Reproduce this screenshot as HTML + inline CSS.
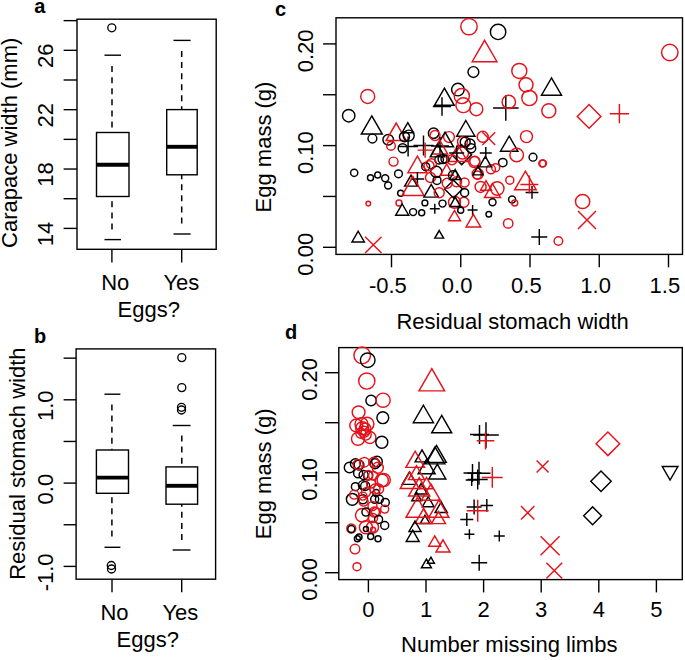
<!DOCTYPE html>
<html><head><meta charset="utf-8"><style>
html,body{margin:0;padding:0;background:#fff;}
svg{display:block;}
text{font-family:"Liberation Sans",sans-serif;fill:#000;}
</style></head><body>
<svg width="685" height="660" viewBox="0 0 685 660">
<rect width="685" height="660" fill="#fff"/>
<rect x="77.00" y="19.20" width="139.20" height="230.10" fill="none" stroke="#000" stroke-width="1.4"/>
<line x1="63.60" y1="228.40" x2="77.00" y2="228.40" stroke="#000" stroke-width="1.4" />
<line x1="63.60" y1="198.72" x2="77.00" y2="198.72" stroke="#000" stroke-width="1.4" />
<line x1="63.60" y1="169.04" x2="77.00" y2="169.04" stroke="#000" stroke-width="1.4" />
<line x1="63.60" y1="139.36" x2="77.00" y2="139.36" stroke="#000" stroke-width="1.4" />
<line x1="63.60" y1="109.68" x2="77.00" y2="109.68" stroke="#000" stroke-width="1.4" />
<line x1="63.60" y1="80.00" x2="77.00" y2="80.00" stroke="#000" stroke-width="1.4" />
<line x1="63.60" y1="50.32" x2="77.00" y2="50.32" stroke="#000" stroke-width="1.4" />
<line x1="63.60" y1="20.64" x2="77.00" y2="20.64" stroke="#000" stroke-width="1.4" />
<text x="0" y="0" font-size="22" text-anchor="middle" transform="translate(52.60,233.90) rotate(-90) scale(1.0,1)">14</text>
<text x="0" y="0" font-size="22" text-anchor="middle" transform="translate(52.60,174.54) rotate(-90) scale(1.0,1)">18</text>
<text x="0" y="0" font-size="22" text-anchor="middle" transform="translate(52.60,115.18) rotate(-90) scale(1.0,1)">22</text>
<text x="0" y="0" font-size="22" text-anchor="middle" transform="translate(52.60,55.82) rotate(-90) scale(1.0,1)">26</text>
<line x1="111.90" y1="249.30" x2="111.90" y2="262.40" stroke="#000" stroke-width="1.4" />
<line x1="181.70" y1="249.30" x2="181.70" y2="262.40" stroke="#000" stroke-width="1.4" />
<text x="0" y="0" font-size="22" text-anchor="middle" transform="translate(115.20,290.30) scale(1.0,1)">No</text>
<text x="0" y="0" font-size="22" text-anchor="middle" transform="translate(181.40,290.30) scale(1.0,1)">Yes</text>
<text x="0" y="0" font-size="22" text-anchor="middle" transform="translate(148.80,317.30) scale(1.0,1)">Eggs?</text>
<text x="0" y="0" font-size="22" text-anchor="middle" transform="translate(16.60,142.80) rotate(-90) scale(1.0,1)">Carapace width (mm)</text>
<text x="0" y="0" font-size="20" text-anchor="middle" font-weight="bold" transform="translate(39.90,12.80) scale(1.0,1)">a</text>
<rect x="96.50" y="132.50" width="32.50" height="64.00" fill="none" stroke="#000" stroke-width="1.4"/>
<line x1="96.50" y1="164.80" x2="129.00" y2="164.80" stroke="#000" stroke-width="3.9" />
<line x1="104.50" y1="55.20" x2="121.00" y2="55.20" stroke="#000" stroke-width="1.4" />
<line x1="104.50" y1="239.60" x2="121.00" y2="239.60" stroke="#000" stroke-width="1.4" />
<line x1="112.00" y1="66.10" x2="112.00" y2="132.50" stroke="#000" stroke-width="1.5" stroke-dasharray="6 5.07"/>
<line x1="112.00" y1="196.50" x2="112.00" y2="229.50" stroke="#000" stroke-width="1.5" stroke-dasharray="6 5.07" transform="rotate(180 112.00 213.00)"/>
<circle cx="111.8" cy="27.8" r="4.0" fill="none" stroke="#000" stroke-width="1.35"/>
<rect x="166.70" y="109.60" width="30.50" height="65.20" fill="none" stroke="#000" stroke-width="1.4"/>
<line x1="166.70" y1="146.80" x2="197.20" y2="146.80" stroke="#000" stroke-width="3.9" />
<line x1="173.50" y1="40.40" x2="190.60" y2="40.40" stroke="#000" stroke-width="1.4" />
<line x1="173.50" y1="234.00" x2="190.60" y2="234.00" stroke="#000" stroke-width="1.4" />
<line x1="181.70" y1="51.00" x2="181.70" y2="109.60" stroke="#000" stroke-width="1.5" stroke-dasharray="6 5.07"/>
<line x1="181.70" y1="174.80" x2="181.70" y2="223.50" stroke="#000" stroke-width="1.5" stroke-dasharray="6 5.07" transform="rotate(180 181.70 199.15)"/>
<rect x="76.10" y="348.90" width="139.50" height="230.30" fill="none" stroke="#000" stroke-width="1.4"/>
<line x1="63.60" y1="566.40" x2="76.10" y2="566.40" stroke="#000" stroke-width="1.4" />
<line x1="63.60" y1="524.75" x2="76.10" y2="524.75" stroke="#000" stroke-width="1.4" />
<line x1="63.60" y1="483.10" x2="76.10" y2="483.10" stroke="#000" stroke-width="1.4" />
<line x1="63.60" y1="441.45" x2="76.10" y2="441.45" stroke="#000" stroke-width="1.4" />
<line x1="63.60" y1="399.80" x2="76.10" y2="399.80" stroke="#000" stroke-width="1.4" />
<line x1="63.60" y1="358.15" x2="76.10" y2="358.15" stroke="#000" stroke-width="1.4" />
<text x="0" y="0" font-size="22" text-anchor="middle" transform="translate(52.60,572.40) rotate(-90) scale(1.0,1)">-1.0</text>
<text x="0" y="0" font-size="22" text-anchor="middle" transform="translate(52.60,489.10) rotate(-90) scale(1.0,1)">0.0</text>
<text x="0" y="0" font-size="22" text-anchor="middle" transform="translate(52.60,405.80) rotate(-90) scale(1.0,1)">1.0</text>
<line x1="112.00" y1="579.20" x2="112.00" y2="592.20" stroke="#000" stroke-width="1.4" />
<line x1="181.70" y1="579.20" x2="181.70" y2="592.20" stroke="#000" stroke-width="1.4" />
<text x="0" y="0" font-size="22" text-anchor="middle" transform="translate(114.50,619.50) scale(1.0,1)">No</text>
<text x="0" y="0" font-size="22" text-anchor="middle" transform="translate(180.40,619.50) scale(1.0,1)">Yes</text>
<text x="0" y="0" font-size="22" text-anchor="middle" transform="translate(147.80,646.50) scale(1.0,1)">Eggs?</text>
<text x="0" y="0" font-size="22" text-anchor="middle" transform="translate(25.30,463.60) rotate(-90) scale(1.0,1)">Residual stomach width</text>
<text x="0" y="0" font-size="20" text-anchor="middle" font-weight="bold" transform="translate(40.00,342.60) scale(1.0,1)">b</text>
<rect x="96.40" y="450.00" width="32.10" height="43.30" fill="none" stroke="#000" stroke-width="1.4"/>
<line x1="96.40" y1="477.60" x2="128.50" y2="477.60" stroke="#000" stroke-width="3.9" />
<line x1="104.50" y1="394.20" x2="120.40" y2="394.20" stroke="#000" stroke-width="1.4" />
<line x1="104.50" y1="547.30" x2="120.40" y2="547.30" stroke="#000" stroke-width="1.4" />
<line x1="111.90" y1="404.50" x2="111.90" y2="450.00" stroke="#000" stroke-width="1.5" stroke-dasharray="6 5.07"/>
<line x1="111.90" y1="493.30" x2="111.90" y2="536.50" stroke="#000" stroke-width="1.5" stroke-dasharray="6 5.07" transform="rotate(180 111.90 514.90)"/>
<circle cx="111.3" cy="565.5" r="4.0" fill="none" stroke="#000" stroke-width="1.35"/>
<circle cx="111.5" cy="569.0" r="4.0" fill="none" stroke="#000" stroke-width="1.35"/>
<rect x="166.00" y="466.90" width="31.60" height="37.30" fill="none" stroke="#000" stroke-width="1.4"/>
<line x1="166.00" y1="485.80" x2="197.60" y2="485.80" stroke="#000" stroke-width="3.9" />
<line x1="172.70" y1="425.50" x2="190.50" y2="425.50" stroke="#000" stroke-width="1.4" />
<line x1="172.70" y1="550.00" x2="190.50" y2="550.00" stroke="#000" stroke-width="1.4" />
<line x1="181.80" y1="435.50" x2="181.80" y2="466.90" stroke="#000" stroke-width="1.5" stroke-dasharray="6 5.07"/>
<line x1="181.80" y1="504.20" x2="181.80" y2="540.00" stroke="#000" stroke-width="1.5" stroke-dasharray="6 5.07" transform="rotate(180 181.80 522.10)"/>
<circle cx="181.8" cy="357.6" r="4.0" fill="none" stroke="#000" stroke-width="1.35"/>
<circle cx="181.8" cy="387.6" r="4.0" fill="none" stroke="#000" stroke-width="1.35"/>
<circle cx="181.5" cy="407.3" r="4.0" fill="none" stroke="#000" stroke-width="1.35"/>
<circle cx="181.5" cy="410.0" r="4.0" fill="none" stroke="#000" stroke-width="1.35"/>
<rect x="336.00" y="17.80" width="346.50" height="236.60" fill="none" stroke="#000" stroke-width="1.4"/>
<line x1="323.00" y1="247.30" x2="336.00" y2="247.30" stroke="#000" stroke-width="1.4" />
<line x1="323.00" y1="196.45" x2="336.00" y2="196.45" stroke="#000" stroke-width="1.4" />
<line x1="323.00" y1="145.60" x2="336.00" y2="145.60" stroke="#000" stroke-width="1.4" />
<line x1="323.00" y1="94.75" x2="336.00" y2="94.75" stroke="#000" stroke-width="1.4" />
<line x1="323.00" y1="43.90" x2="336.00" y2="43.90" stroke="#000" stroke-width="1.4" />
<text x="0" y="0" font-size="22" text-anchor="middle" transform="translate(313.20,254.30) rotate(-90) scale(1.0,1)">0.00</text>
<text x="0" y="0" font-size="22" text-anchor="middle" transform="translate(313.20,152.60) rotate(-90) scale(1.0,1)">0.10</text>
<text x="0" y="0" font-size="22" text-anchor="middle" transform="translate(313.20,50.90) rotate(-90) scale(1.0,1)">0.20</text>
<line x1="391.50" y1="254.40" x2="391.50" y2="267.30" stroke="#000" stroke-width="1.4" />
<text x="0" y="0" font-size="22" text-anchor="middle" transform="translate(387.90,293.30) scale(1.0,1)">-0.5</text>
<line x1="460.75" y1="254.40" x2="460.75" y2="267.30" stroke="#000" stroke-width="1.4" />
<text x="0" y="0" font-size="22" text-anchor="middle" transform="translate(457.15,293.30) scale(1.0,1)">0.0</text>
<line x1="530.00" y1="254.40" x2="530.00" y2="267.30" stroke="#000" stroke-width="1.4" />
<text x="0" y="0" font-size="22" text-anchor="middle" transform="translate(526.40,293.30) scale(1.0,1)">0.5</text>
<line x1="599.25" y1="254.40" x2="599.25" y2="267.30" stroke="#000" stroke-width="1.4" />
<text x="0" y="0" font-size="22" text-anchor="middle" transform="translate(595.65,293.30) scale(1.0,1)">1.0</text>
<line x1="668.50" y1="254.40" x2="668.50" y2="267.30" stroke="#000" stroke-width="1.4" />
<text x="0" y="0" font-size="22" text-anchor="middle" transform="translate(664.90,293.30) scale(1.0,1)">1.5</text>
<text x="0" y="0" font-size="22" text-anchor="middle" transform="translate(512.60,328.60) scale(1.0,1)">Residual stomach width</text>
<text x="0" y="0" font-size="22" text-anchor="middle" transform="translate(271.40,147.00) rotate(-90) scale(1.0,1)">Egg mass (g)</text>
<text x="0" y="0" font-size="20" text-anchor="middle" font-weight="bold" transform="translate(280.60,15.70) scale(1.0,1)">c</text>
<rect x="338.80" y="347.60" width="343.50" height="232.00" fill="none" stroke="#000" stroke-width="1.4"/>
<line x1="325.00" y1="572.70" x2="338.80" y2="572.70" stroke="#000" stroke-width="1.4" />
<line x1="325.00" y1="522.70" x2="338.80" y2="522.70" stroke="#000" stroke-width="1.4" />
<line x1="325.00" y1="472.70" x2="338.80" y2="472.70" stroke="#000" stroke-width="1.4" />
<line x1="325.00" y1="422.70" x2="338.80" y2="422.70" stroke="#000" stroke-width="1.4" />
<line x1="325.00" y1="372.70" x2="338.80" y2="372.70" stroke="#000" stroke-width="1.4" />
<text x="0" y="0" font-size="22" text-anchor="middle" transform="translate(316.70,579.40) rotate(-90) scale(1.0,1)">0.00</text>
<text x="0" y="0" font-size="22" text-anchor="middle" transform="translate(316.70,479.40) rotate(-90) scale(1.0,1)">0.10</text>
<text x="0" y="0" font-size="22" text-anchor="middle" transform="translate(316.70,379.40) rotate(-90) scale(1.0,1)">0.20</text>
<line x1="368.40" y1="579.60" x2="368.40" y2="592.40" stroke="#000" stroke-width="1.4" />
<text x="0" y="0" font-size="22" text-anchor="middle" transform="translate(368.40,617.00) scale(1.0,1)">0</text>
<line x1="426.00" y1="579.60" x2="426.00" y2="592.40" stroke="#000" stroke-width="1.4" />
<text x="0" y="0" font-size="22" text-anchor="middle" transform="translate(426.00,617.00) scale(1.0,1)">1</text>
<line x1="483.60" y1="579.60" x2="483.60" y2="592.40" stroke="#000" stroke-width="1.4" />
<text x="0" y="0" font-size="22" text-anchor="middle" transform="translate(483.60,617.00) scale(1.0,1)">2</text>
<line x1="541.20" y1="579.60" x2="541.20" y2="592.40" stroke="#000" stroke-width="1.4" />
<text x="0" y="0" font-size="22" text-anchor="middle" transform="translate(541.20,617.00) scale(1.0,1)">3</text>
<line x1="598.80" y1="579.60" x2="598.80" y2="592.40" stroke="#000" stroke-width="1.4" />
<text x="0" y="0" font-size="22" text-anchor="middle" transform="translate(598.80,617.00) scale(1.0,1)">4</text>
<line x1="656.40" y1="579.60" x2="656.40" y2="592.40" stroke="#000" stroke-width="1.4" />
<text x="0" y="0" font-size="22" text-anchor="middle" transform="translate(656.40,617.00) scale(1.0,1)">5</text>
<text x="0" y="0" font-size="22" text-anchor="middle" transform="translate(509.20,652.00) scale(1.0,1)">Number missing limbs</text>
<text x="0" y="0" font-size="22" text-anchor="middle" transform="translate(271.40,473.80) rotate(-90) scale(1.0,1)">Egg mass (g)</text>
<text x="0" y="0" font-size="20" text-anchor="middle" font-weight="bold" transform="translate(291.20,339.10) scale(1.0,1)">d</text>
<circle cx="367.7" cy="96.4" r="7.00" fill="none" stroke="#e41219" stroke-width="1.45"/>
<circle cx="348.7" cy="115.7" r="6.20" fill="none" stroke="#000" stroke-width="1.45"/>
<polygon points="371.8,115.88 382.30,134.06 361.30,134.06" fill="none" stroke="#000" stroke-width="1.45" stroke-linejoin="miter"/>
<circle cx="372.4" cy="138.5" r="4.40" fill="none" stroke="#000" stroke-width="1.45"/>
<circle cx="388.2" cy="139.7" r="5.30" fill="none" stroke="#000" stroke-width="1.45"/>
<polygon points="396.2,123.04 406.30,140.53 386.10,140.53" fill="none" stroke="#e41219" stroke-width="1.45" stroke-linejoin="miter"/>
<circle cx="391.0" cy="145.9" r="4.30" fill="none" stroke="#e41219" stroke-width="1.45"/>
<polygon points="407.8,122.60 413.60,132.65 402.00,132.65" fill="none" stroke="#000" stroke-width="1.45" stroke-linejoin="miter"/>
<circle cx="404.5" cy="136.8" r="5.00" fill="none" stroke="#000" stroke-width="1.45"/>
<circle cx="408.7" cy="135.6" r="5.50" fill="none" stroke="#000" stroke-width="1.45"/>
<circle cx="402.7" cy="148.3" r="4.50" fill="none" stroke="#000" stroke-width="1.45"/>
<path d="M398.10,146.5H418.10M408.1,136.50V156.50" stroke="#000" stroke-width="1.45" fill="none"/>
<circle cx="393.5" cy="161.6" r="4.50" fill="none" stroke="#e41219" stroke-width="1.45"/>
<polygon points="417.4,156.23 426.90,172.68 407.90,172.68" fill="none" stroke="#e41219" stroke-width="1.45" stroke-linejoin="miter"/>
<circle cx="354.2" cy="172.8" r="3.60" fill="none" stroke="#000" stroke-width="1.45"/>
<circle cx="370.5" cy="177.7" r="3.00" fill="none" stroke="#000" stroke-width="1.45"/>
<circle cx="377.7" cy="175.0" r="3.00" fill="none" stroke="#000" stroke-width="1.45"/>
<circle cx="385.2" cy="178.2" r="3.50" fill="none" stroke="#000" stroke-width="1.45"/>
<circle cx="388.1" cy="185.5" r="3.50" fill="none" stroke="#000" stroke-width="1.45"/>
<circle cx="398.5" cy="173.8" r="3.90" fill="none" stroke="#000" stroke-width="1.45"/>
<circle cx="400.7" cy="193.2" r="3.00" fill="none" stroke="#000" stroke-width="1.45"/>
<circle cx="368.3" cy="203.6" r="2.30" fill="none" stroke="#e41219" stroke-width="1.45"/>
<circle cx="399.0" cy="202.9" r="3.00" fill="none" stroke="#e41219" stroke-width="1.45"/>
<polygon points="402.2,203.99 408.70,215.25 395.70,215.25" fill="none" stroke="#000" stroke-width="1.45" stroke-linejoin="miter"/>
<circle cx="413.1" cy="212.1" r="3.50" fill="none" stroke="#000" stroke-width="1.45"/>
<circle cx="421.7" cy="212.7" r="3.00" fill="none" stroke="#000" stroke-width="1.45"/>
<polygon points="411.0,175.23 417.30,186.14 404.70,186.14" fill="none" stroke="#000" stroke-width="1.45" stroke-linejoin="miter"/>
<polygon points="358.2,231.24 364.40,241.98 352.00,241.98" fill="none" stroke="#000" stroke-width="1.45" stroke-linejoin="miter"/>
<path d="M365.10,236.70L381.50,253.10M365.10,253.10L381.50,236.70" stroke="#e41219" stroke-width="1.45" fill="none"/>
<circle cx="469.0" cy="26.6" r="8.20" fill="none" stroke="#e41219" stroke-width="1.45"/>
<circle cx="498.1" cy="31.9" r="7.70" fill="none" stroke="#000" stroke-width="1.45"/>
<polygon points="484.6,40.28 497.00,61.76 472.20,61.76" fill="none" stroke="#e41219" stroke-width="1.45" stroke-linejoin="miter"/>
<circle cx="473.4" cy="72.0" r="5.40" fill="none" stroke="#000" stroke-width="1.45"/>
<circle cx="519.3" cy="70.9" r="7.50" fill="none" stroke="#e41219" stroke-width="1.45"/>
<circle cx="526.0" cy="84.8" r="7.00" fill="none" stroke="#e41219" stroke-width="1.45"/>
<circle cx="529.4" cy="98.0" r="7.60" fill="none" stroke="#e41219" stroke-width="1.45"/>
<circle cx="457.9" cy="89.6" r="6.30" fill="none" stroke="#000" stroke-width="1.45"/>
<polygon points="444.4,88.17 454.30,105.32 434.50,105.32" fill="none" stroke="#000" stroke-width="1.45" stroke-linejoin="miter"/>
<path d="M432.80,106.5H451.20M442.0,97.30V115.70" stroke="#000" stroke-width="1.45" fill="none"/>
<circle cx="461.8" cy="96.0" r="7.60" fill="none" stroke="#e41219" stroke-width="1.45"/>
<circle cx="463.3" cy="105.2" r="7.40" fill="none" stroke="#e41219" stroke-width="1.45"/>
<circle cx="476.3" cy="109.2" r="6.50" fill="none" stroke="#e41219" stroke-width="1.45"/>
<path d="M493.00,108.0H518.60M505.8,95.20V120.80" stroke="#000" stroke-width="1.45" fill="none"/>
<circle cx="508.8" cy="101.9" r="6.70" fill="none" stroke="#e41219" stroke-width="1.45"/>
<circle cx="669.8" cy="52.5" r="8.20" fill="none" stroke="#e41219" stroke-width="1.45"/>
<polygon points="551.5,77.85 561.50,95.17 541.50,95.17" fill="none" stroke="#000" stroke-width="1.45" stroke-linejoin="miter"/>
<circle cx="548.8" cy="110.7" r="7.00" fill="none" stroke="#e41219" stroke-width="1.45"/>
<polygon points="577.30,116.4 589.1,104.60 600.90,116.4 589.1,128.20" fill="none" stroke="#e41219" stroke-width="1.45"/>
<path d="M609.80,113.7H629.00M619.4,104.10V123.30" stroke="#e41219" stroke-width="1.45" fill="none"/>
<circle cx="543.1" cy="163.4" r="3.40" fill="none" stroke="#e41219" stroke-width="1.45"/>
<circle cx="582.6" cy="201.5" r="7.10" fill="none" stroke="#e41219" stroke-width="1.45"/>
<path d="M578.00,210.90L596.00,228.90M578.00,228.90L596.00,210.90" stroke="#e41219" stroke-width="1.45" fill="none"/>
<path d="M531.30,237.0H547.30M539.3,229.00V245.00" stroke="#000" stroke-width="1.45" fill="none"/>
<circle cx="558.4" cy="241.0" r="4.30" fill="none" stroke="#e41219" stroke-width="1.45"/>
<path d="M525.60,192.4H538.40M532.0,186.00V198.80" stroke="#000" stroke-width="1.45" fill="none"/>
<polygon points="465.8,120.49 474.90,136.25 456.70,136.25" fill="none" stroke="#000" stroke-width="1.45" stroke-linejoin="miter"/>
<circle cx="433.6" cy="133.2" r="5.20" fill="none" stroke="#000" stroke-width="1.45"/>
<circle cx="435.0" cy="135.5" r="5.00" fill="none" stroke="#e41219" stroke-width="1.45"/>
<circle cx="449.0" cy="137.0" r="5.40" fill="none" stroke="#e41219" stroke-width="1.45"/>
<polygon points="445.0,132.09 453.50,146.81 436.50,146.81" fill="none" stroke="#000" stroke-width="1.45" stroke-linejoin="miter"/>
<circle cx="462.5" cy="141.6" r="5.00" fill="none" stroke="#e41219" stroke-width="1.45"/>
<circle cx="470.0" cy="144.0" r="5.00" fill="none" stroke="#000" stroke-width="1.45"/>
<circle cx="482.7" cy="136.8" r="5.50" fill="none" stroke="#e41219" stroke-width="1.45"/>
<path d="M482.40,132.20L495.20,145.00M482.40,145.00L495.20,132.20" stroke="#e41219" stroke-width="1.45" fill="none"/>
<polygon points="509.2,136.15 517.90,151.22 500.50,151.22" fill="none" stroke="#000" stroke-width="1.45" stroke-linejoin="miter"/>
<circle cx="526.5" cy="136.6" r="6.00" fill="none" stroke="#e41219" stroke-width="1.45"/>
<circle cx="516.7" cy="155.0" r="6.80" fill="none" stroke="#e41219" stroke-width="1.45"/>
<circle cx="533.0" cy="157.2" r="3.90" fill="none" stroke="#000" stroke-width="1.45"/>
<circle cx="542.3" cy="163.5" r="3.50" fill="none" stroke="#e41219" stroke-width="1.45"/>
<circle cx="502.8" cy="162.6" r="4.20" fill="none" stroke="#000" stroke-width="1.45"/>
<path d="M479.80,153.0H491.80M485.8,147.00V159.00" stroke="#000" stroke-width="1.45" fill="none"/>
<polygon points="451.80,154.7 461.7,144.80 471.60,154.7 461.7,164.60" fill="none" stroke="#000" stroke-width="1.45"/>
<circle cx="462.5" cy="153.0" r="6.00" fill="none" stroke="#e41219" stroke-width="1.45"/>
<polygon points="458.0,145.03 467.50,161.48 448.50,161.48" fill="none" stroke="#e41219" stroke-width="1.45" stroke-linejoin="miter"/>
<path d="M413.50,145.5H433.50M423.5,135.50V155.50" stroke="#000" stroke-width="1.45" fill="none"/>
<path d="M431.00,146.0H449.00M440.0,137.00V155.00" stroke="#000" stroke-width="1.45" fill="none"/>
<path d="M417.50,150.1H432.70M425.1,142.50V157.70" stroke="#e41219" stroke-width="1.45" fill="none"/>
<polygon points="439.7,140.06 447.70,153.92 431.70,153.92" fill="none" stroke="#e41219" stroke-width="1.45" stroke-linejoin="miter"/>
<polygon points="437.5,144.39 444.70,156.86 430.30,156.86" fill="none" stroke="#000" stroke-width="1.45" stroke-linejoin="miter"/>
<circle cx="439.1" cy="159.7" r="4.30" fill="none" stroke="#000" stroke-width="1.45"/>
<circle cx="442.6" cy="159.1" r="4.50" fill="none" stroke="#000" stroke-width="1.45"/>
<circle cx="445.0" cy="159.1" r="4.00" fill="none" stroke="#000" stroke-width="1.45"/>
<circle cx="452.0" cy="159.7" r="5.00" fill="none" stroke="#e41219" stroke-width="1.45"/>
<circle cx="431.5" cy="163.8" r="5.00" fill="none" stroke="#e41219" stroke-width="1.45"/>
<circle cx="425.7" cy="166.7" r="4.00" fill="none" stroke="#000" stroke-width="1.45"/>
<circle cx="436.3" cy="171.9" r="5.60" fill="none" stroke="#000" stroke-width="1.45"/>
<polygon points="446.7,163.99 453.20,175.25 440.20,175.25" fill="none" stroke="#e41219" stroke-width="1.45" stroke-linejoin="miter"/>
<circle cx="474.2" cy="162.0" r="5.50" fill="none" stroke="#e41219" stroke-width="1.45"/>
<circle cx="471.2" cy="148.2" r="4.50" fill="none" stroke="#000" stroke-width="1.45"/>
<circle cx="465.2" cy="142.1" r="5.00" fill="none" stroke="#000" stroke-width="1.45"/>
<path d="M449.20,153.0H464.20M456.7,145.50V160.50" stroke="#000" stroke-width="1.45" fill="none"/>
<path d="M410.60,178.9H424.20M417.4,172.10V185.70" stroke="#000" stroke-width="1.45" fill="none"/>
<polygon points="413.0,176.50 424.00,195.55 402.00,195.55" fill="none" stroke="#e41219" stroke-width="1.45" stroke-linejoin="miter"/>
<polygon points="431.2,184.47 438.50,197.11 423.90,197.11" fill="none" stroke="#000" stroke-width="1.45" stroke-linejoin="miter"/>
<circle cx="424.9" cy="202.9" r="2.90" fill="none" stroke="#000" stroke-width="1.45"/>
<path d="M429.80,208.7H439.80M434.8,203.70V213.70" stroke="#000" stroke-width="1.45" fill="none"/>
<circle cx="442.5" cy="203.6" r="3.50" fill="none" stroke="#000" stroke-width="1.45"/>
<circle cx="454.5" cy="202.2" r="6.00" fill="none" stroke="#e41219" stroke-width="1.45"/>
<circle cx="463.9" cy="202.2" r="5.00" fill="none" stroke="#e41219" stroke-width="1.45"/>
<polygon points="455.2,197.16 460.60,206.52 449.80,206.52" fill="none" stroke="#000" stroke-width="1.45" stroke-linejoin="miter"/>
<circle cx="460.7" cy="210.2" r="3.00" fill="none" stroke="#000" stroke-width="1.45"/>
<polygon points="454.5,210.37 460.50,220.76 448.50,220.76" fill="none" stroke="#e41219" stroke-width="1.45" stroke-linejoin="miter"/>
<path d="M467.60,209.9H477.60M472.6,204.90V214.90" stroke="#000" stroke-width="1.45" fill="none"/>
<polygon points="473.4,214.27 480.70,226.91 466.10,226.91" fill="none" stroke="#e41219" stroke-width="1.45" stroke-linejoin="miter"/>
<polygon points="439.2,230.52 443.60,238.14 434.80,238.14" fill="none" stroke="#000" stroke-width="1.45" stroke-linejoin="miter"/>
<polygon points="444.60,189.1 453.5,180.20 462.40,189.1 453.5,198.00" fill="none" stroke="#000" stroke-width="1.45"/>
<circle cx="430.5" cy="177.5" r="5.00" fill="none" stroke="#e41219" stroke-width="1.45"/>
<circle cx="429.0" cy="165.8" r="5.00" fill="none" stroke="#e41219" stroke-width="1.45"/>
<circle cx="439.2" cy="192.7" r="5.00" fill="none" stroke="#e41219" stroke-width="1.45"/>
<circle cx="447.2" cy="183.3" r="5.00" fill="none" stroke="#e41219" stroke-width="1.45"/>
<circle cx="456.6" cy="181.8" r="5.00" fill="none" stroke="#e41219" stroke-width="1.45"/>
<circle cx="464.6" cy="182.5" r="4.50" fill="none" stroke="#e41219" stroke-width="1.45"/>
<circle cx="437.0" cy="180.4" r="4.00" fill="none" stroke="#000" stroke-width="1.45"/>
<circle cx="453.0" cy="175.3" r="4.50" fill="none" stroke="#000" stroke-width="1.45"/>
<circle cx="464.6" cy="192.7" r="4.00" fill="none" stroke="#000" stroke-width="1.45"/>
<polygon points="455.2,169.50 461.00,179.55 449.40,179.55" fill="none" stroke="#000" stroke-width="1.45" stroke-linejoin="miter"/>
<circle cx="477.7" cy="173.8" r="5.50" fill="none" stroke="#e41219" stroke-width="1.45"/>
<circle cx="480.6" cy="186.9" r="5.50" fill="none" stroke="#e41219" stroke-width="1.45"/>
<circle cx="495.7" cy="167.7" r="4.00" fill="none" stroke="#e41219" stroke-width="1.45"/>
<circle cx="490.9" cy="169.3" r="4.50" fill="none" stroke="#e41219" stroke-width="1.45"/>
<circle cx="474.8" cy="161.2" r="5.00" fill="none" stroke="#e41219" stroke-width="1.45"/>
<circle cx="477.2" cy="174.9" r="4.00" fill="none" stroke="#e41219" stroke-width="1.45"/>
<polygon points="485.3,156.47 491.30,166.86 479.30,166.86" fill="none" stroke="#000" stroke-width="1.45" stroke-linejoin="miter"/>
<polygon points="478.0,166.23 483.00,174.89 473.00,174.89" fill="none" stroke="#000" stroke-width="1.45" stroke-linejoin="miter"/>
<circle cx="509.8" cy="180.2" r="4.00" fill="none" stroke="#e41219" stroke-width="1.45"/>
<polygon points="525.4,171.13 536.20,189.84 514.60,189.84" fill="none" stroke="#e41219" stroke-width="1.45" stroke-linejoin="miter"/>
<path d="M520.40,184.5H538.40M529.4,175.50V193.50" stroke="#e41219" stroke-width="1.45" fill="none"/>
<circle cx="497.3" cy="188.5" r="6.70" fill="none" stroke="#e41219" stroke-width="1.45"/>
<polygon points="492.5,183.56 500.50,197.42 484.50,197.42" fill="none" stroke="#e41219" stroke-width="1.45" stroke-linejoin="miter"/>
<polygon points="486.0,180.65 491.50,190.18 480.50,190.18" fill="none" stroke="#e41219" stroke-width="1.45" stroke-linejoin="miter"/>
<circle cx="492.5" cy="202.2" r="3.50" fill="none" stroke="#000" stroke-width="1.45"/>
<circle cx="512.1" cy="199.5" r="3.50" fill="none" stroke="#000" stroke-width="1.45"/>
<circle cx="514.7" cy="203.0" r="3.00" fill="none" stroke="#e41219" stroke-width="1.45"/>
<circle cx="488.8" cy="214.2" r="2.80" fill="none" stroke="#000" stroke-width="1.45"/>
<circle cx="508.2" cy="223.4" r="4.70" fill="none" stroke="#e41219" stroke-width="1.45"/>
<circle cx="362.2" cy="355.3" r="8.30" fill="none" stroke="#e41219" stroke-width="1.45"/>
<circle cx="367.7" cy="360.2" r="7.30" fill="none" stroke="#000" stroke-width="1.45"/>
<circle cx="366.8" cy="381.0" r="8.10" fill="none" stroke="#e41219" stroke-width="1.45"/>
<circle cx="371.1" cy="400.5" r="5.20" fill="none" stroke="#000" stroke-width="1.45"/>
<circle cx="383.1" cy="400.2" r="7.10" fill="none" stroke="#e41219" stroke-width="1.45"/>
<circle cx="358.6" cy="412.3" r="6.40" fill="none" stroke="#e41219" stroke-width="1.45"/>
<circle cx="382.8" cy="417.7" r="5.90" fill="none" stroke="#000" stroke-width="1.45"/>
<circle cx="356.3" cy="425.5" r="6.50" fill="none" stroke="#e41219" stroke-width="1.45"/>
<circle cx="367.1" cy="424.1" r="6.80" fill="none" stroke="#e41219" stroke-width="1.45"/>
<circle cx="358.0" cy="438.8" r="6.50" fill="none" stroke="#e41219" stroke-width="1.45"/>
<circle cx="369.9" cy="437.4" r="6.00" fill="none" stroke="#e41219" stroke-width="1.45"/>
<circle cx="362.2" cy="428.3" r="6.50" fill="none" stroke="#e41219" stroke-width="1.45"/>
<circle cx="364.0" cy="431.8" r="5.50" fill="none" stroke="#e41219" stroke-width="1.45"/>
<circle cx="360.8" cy="433.2" r="5.00" fill="none" stroke="#e41219" stroke-width="1.45"/>
<circle cx="365.0" cy="429.0" r="6.00" fill="none" stroke="#e41219" stroke-width="1.45"/>
<circle cx="361.5" cy="424.1" r="6.50" fill="none" stroke="#e41219" stroke-width="1.45"/>
<circle cx="365.7" cy="434.6" r="5.50" fill="none" stroke="#e41219" stroke-width="1.45"/>
<circle cx="381.8" cy="442.3" r="6.00" fill="none" stroke="#000" stroke-width="1.45"/>
<circle cx="349.5" cy="467.5" r="5.20" fill="none" stroke="#000" stroke-width="1.45"/>
<circle cx="355.4" cy="463.8" r="5.00" fill="none" stroke="#000" stroke-width="1.45"/>
<circle cx="358.9" cy="465.0" r="5.00" fill="none" stroke="#000" stroke-width="1.45"/>
<circle cx="377.0" cy="461.5" r="5.30" fill="none" stroke="#000" stroke-width="1.45"/>
<circle cx="375.0" cy="463.8" r="5.00" fill="none" stroke="#000" stroke-width="1.45"/>
<circle cx="358.1" cy="473.3" r="4.50" fill="none" stroke="#000" stroke-width="1.45"/>
<circle cx="363.6" cy="474.9" r="4.50" fill="none" stroke="#000" stroke-width="1.45"/>
<circle cx="368.0" cy="475.6" r="4.50" fill="none" stroke="#000" stroke-width="1.45"/>
<circle cx="355.4" cy="486.7" r="4.00" fill="none" stroke="#000" stroke-width="1.45"/>
<circle cx="362.9" cy="485.1" r="4.50" fill="none" stroke="#000" stroke-width="1.45"/>
<circle cx="365.2" cy="485.9" r="4.50" fill="none" stroke="#000" stroke-width="1.45"/>
<circle cx="352.3" cy="499.3" r="5.90" fill="none" stroke="#000" stroke-width="1.45"/>
<circle cx="362.9" cy="499.3" r="4.50" fill="none" stroke="#000" stroke-width="1.45"/>
<circle cx="374.7" cy="499.3" r="4.00" fill="none" stroke="#000" stroke-width="1.45"/>
<circle cx="379.4" cy="499.3" r="4.00" fill="none" stroke="#000" stroke-width="1.45"/>
<circle cx="385.3" cy="502.4" r="4.00" fill="none" stroke="#000" stroke-width="1.45"/>
<circle cx="376.2" cy="493.0" r="3.50" fill="none" stroke="#000" stroke-width="1.45"/>
<circle cx="358.1" cy="464.6" r="5.00" fill="none" stroke="#e41219" stroke-width="1.45"/>
<circle cx="364.4" cy="462.2" r="4.80" fill="none" stroke="#e41219" stroke-width="1.45"/>
<circle cx="373.9" cy="462.2" r="5.00" fill="none" stroke="#e41219" stroke-width="1.45"/>
<circle cx="377.8" cy="467.8" r="5.50" fill="none" stroke="#e41219" stroke-width="1.45"/>
<circle cx="383.7" cy="480.0" r="6.60" fill="none" stroke="#e41219" stroke-width="1.45"/>
<circle cx="381.8" cy="480.4" r="6.50" fill="none" stroke="#e41219" stroke-width="1.45"/>
<circle cx="368.4" cy="474.9" r="4.50" fill="none" stroke="#e41219" stroke-width="1.45"/>
<circle cx="375.0" cy="489.0" r="5.00" fill="none" stroke="#e41219" stroke-width="1.45"/>
<circle cx="378.6" cy="489.0" r="5.00" fill="none" stroke="#e41219" stroke-width="1.45"/>
<circle cx="354.2" cy="494.6" r="4.50" fill="none" stroke="#e41219" stroke-width="1.45"/>
<circle cx="366.0" cy="492.2" r="4.50" fill="none" stroke="#e41219" stroke-width="1.45"/>
<circle cx="371.1" cy="483.5" r="4.50" fill="none" stroke="#e41219" stroke-width="1.45"/>
<circle cx="363.6" cy="501.6" r="4.50" fill="none" stroke="#e41219" stroke-width="1.45"/>
<circle cx="373.1" cy="475.6" r="4.50" fill="none" stroke="#e41219" stroke-width="1.45"/>
<circle cx="362.9" cy="496.1" r="4.00" fill="none" stroke="#e41219" stroke-width="1.45"/>
<circle cx="362.2" cy="515.2" r="6.70" fill="none" stroke="#e41219" stroke-width="1.45"/>
<circle cx="372.5" cy="506.0" r="4.50" fill="none" stroke="#e41219" stroke-width="1.45"/>
<circle cx="376.0" cy="512.0" r="4.50" fill="none" stroke="#e41219" stroke-width="1.45"/>
<circle cx="373.0" cy="518.0" r="4.50" fill="none" stroke="#e41219" stroke-width="1.45"/>
<circle cx="374.4" cy="512.1" r="5.00" fill="none" stroke="#e41219" stroke-width="1.45"/>
<circle cx="384.7" cy="509.1" r="4.00" fill="none" stroke="#e41219" stroke-width="1.45"/>
<circle cx="365.9" cy="512.1" r="4.00" fill="none" stroke="#000" stroke-width="1.45"/>
<circle cx="378.6" cy="519.4" r="4.00" fill="none" stroke="#000" stroke-width="1.45"/>
<circle cx="384.7" cy="525.5" r="4.00" fill="none" stroke="#000" stroke-width="1.45"/>
<circle cx="351.3" cy="528.5" r="4.50" fill="none" stroke="#e41219" stroke-width="1.45"/>
<circle cx="351.3" cy="529.0" r="3.50" fill="none" stroke="#000" stroke-width="1.45"/>
<circle cx="365.9" cy="527.3" r="6.50" fill="none" stroke="#e41219" stroke-width="1.45"/>
<circle cx="372.5" cy="527.3" r="6.00" fill="none" stroke="#e41219" stroke-width="1.45"/>
<circle cx="373.0" cy="529.7" r="2.50" fill="none" stroke="#e41219" stroke-width="1.45"/>
<circle cx="365.9" cy="529.0" r="2.50" fill="none" stroke="#000" stroke-width="1.45"/>
<circle cx="370.7" cy="536.4" r="3.00" fill="none" stroke="#000" stroke-width="1.45"/>
<circle cx="378.0" cy="538.8" r="3.00" fill="none" stroke="#000" stroke-width="1.45"/>
<circle cx="357.4" cy="538.8" r="3.00" fill="none" stroke="#000" stroke-width="1.45"/>
<circle cx="359.0" cy="537.0" r="3.00" fill="none" stroke="#000" stroke-width="1.45"/>
<circle cx="355.0" cy="549.1" r="4.80" fill="none" stroke="#e41219" stroke-width="1.45"/>
<circle cx="357.0" cy="566.7" r="4.00" fill="none" stroke="#e41219" stroke-width="1.45"/>
<polygon points="431.8,368.72 444.60,390.89 419.00,390.89" fill="none" stroke="#e41219" stroke-width="1.45" stroke-linejoin="miter"/>
<polygon points="423.4,405.24 433.50,422.73 413.30,422.73" fill="none" stroke="#000" stroke-width="1.45" stroke-linejoin="miter"/>
<polygon points="441.7,415.45 451.70,432.77 431.70,432.77" fill="none" stroke="#000" stroke-width="1.45" stroke-linejoin="miter"/>
<polygon points="436.5,445.38 446.30,462.36 426.70,462.36" fill="none" stroke="#000" stroke-width="1.45" stroke-linejoin="miter"/>
<polygon points="435.0,446.88 444.80,463.86 425.20,463.86" fill="none" stroke="#000" stroke-width="1.45" stroke-linejoin="miter"/>
<polygon points="422.0,449.93 428.90,461.88 415.10,461.88" fill="none" stroke="#000" stroke-width="1.45" stroke-linejoin="miter"/>
<polygon points="426.6,459.09 435.10,473.81 418.10,473.81" fill="none" stroke="#000" stroke-width="1.45" stroke-linejoin="miter"/>
<polygon points="437.3,464.19 445.80,478.91 428.80,478.91" fill="none" stroke="#000" stroke-width="1.45" stroke-linejoin="miter"/>
<polygon points="409.4,471.89 416.60,484.36 402.20,484.36" fill="none" stroke="#000" stroke-width="1.45" stroke-linejoin="miter"/>
<polygon points="421.1,483.36 427.20,493.92 415.00,493.92" fill="none" stroke="#000" stroke-width="1.45" stroke-linejoin="miter"/>
<polygon points="416.6,492.46 421.40,500.77 411.80,500.77" fill="none" stroke="#000" stroke-width="1.45" stroke-linejoin="miter"/>
<polygon points="428.2,496.70 434.00,506.75 422.40,506.75" fill="none" stroke="#000" stroke-width="1.45" stroke-linejoin="miter"/>
<polygon points="441.2,501.96 447.30,512.52 435.10,512.52" fill="none" stroke="#000" stroke-width="1.45" stroke-linejoin="miter"/>
<polygon points="425.0,515.26 429.80,523.57 420.20,523.57" fill="none" stroke="#000" stroke-width="1.45" stroke-linejoin="miter"/>
<polygon points="415.2,451.26 424.50,467.37 405.90,467.37" fill="none" stroke="#e41219" stroke-width="1.45" stroke-linejoin="miter"/>
<polygon points="416.5,465.76 424.50,479.62 408.50,479.62" fill="none" stroke="#e41219" stroke-width="1.45" stroke-linejoin="miter"/>
<polygon points="409.7,472.13 419.20,488.58 400.20,488.58" fill="none" stroke="#e41219" stroke-width="1.45" stroke-linejoin="miter"/>
<polygon points="426.5,477.39 433.00,488.65 420.00,488.65" fill="none" stroke="#e41219" stroke-width="1.45" stroke-linejoin="miter"/>
<polygon points="419.2,477.66 429.80,496.02 408.60,496.02" fill="none" stroke="#e41219" stroke-width="1.45" stroke-linejoin="miter"/>
<polygon points="430.9,483.83 440.40,500.28 421.40,500.28" fill="none" stroke="#e41219" stroke-width="1.45" stroke-linejoin="miter"/>
<polygon points="417.4,497.54 428.80,517.28 406.00,517.28" fill="none" stroke="#e41219" stroke-width="1.45" stroke-linejoin="miter"/>
<polygon points="438.9,499.95 448.90,517.27 428.90,517.27" fill="none" stroke="#e41219" stroke-width="1.45" stroke-linejoin="miter"/>
<polygon points="423.5,508.79 432.00,523.51 415.00,523.51" fill="none" stroke="#e41219" stroke-width="1.45" stroke-linejoin="miter"/>
<polygon points="438.5,511.52 445.50,523.64 431.50,523.64" fill="none" stroke="#e41219" stroke-width="1.45" stroke-linejoin="miter"/>
<polygon points="415.0,521.07 421.00,531.46 409.00,531.46" fill="none" stroke="#000" stroke-width="1.45" stroke-linejoin="miter"/>
<polygon points="412.7,530.19 419.20,541.45 406.20,541.45" fill="none" stroke="#000" stroke-width="1.45" stroke-linejoin="miter"/>
<polygon points="434.7,535.87 440.70,546.26 428.70,546.26" fill="none" stroke="#e41219" stroke-width="1.45" stroke-linejoin="miter"/>
<polygon points="443.0,539.82 450.00,551.94 436.00,551.94" fill="none" stroke="#e41219" stroke-width="1.45" stroke-linejoin="miter"/>
<polygon points="426.4,559.13 431.40,567.79 421.40,567.79" fill="none" stroke="#000" stroke-width="1.45" stroke-linejoin="miter"/>
<polygon points="430.9,557.16 434.40,563.22 427.40,563.22" fill="none" stroke="#000" stroke-width="1.45" stroke-linejoin="miter"/>
<path d="M473.20,435.0H498.80M486.0,422.20V447.80" stroke="#000" stroke-width="1.45" fill="none"/>
<path d="M470.00,434.5H489.00M479.5,425.00V444.00" stroke="#000" stroke-width="1.45" fill="none"/>
<path d="M476.70,440.8H494.30M485.5,432.00V449.60" stroke="#e41219" stroke-width="1.45" fill="none"/>
<path d="M467.50,473.2H490.50M479.0,461.70V484.70" stroke="#000" stroke-width="1.45" fill="none"/>
<path d="M463.50,473.0H481.50M472.5,464.00V482.00" stroke="#000" stroke-width="1.45" fill="none"/>
<path d="M467.70,479.5H487.70M477.7,469.50V489.50" stroke="#000" stroke-width="1.45" fill="none"/>
<path d="M465.70,480.0H477.70M471.7,474.00V486.00" stroke="#000" stroke-width="1.45" fill="none"/>
<path d="M481.90,477.4H502.70M492.3,467.00V487.80" stroke="#e41219" stroke-width="1.45" fill="none"/>
<path d="M466.60,507.0H481.60M474.1,499.50V514.50" stroke="#000" stroke-width="1.45" fill="none"/>
<path d="M480.50,505.4H493.10M486.8,499.10V511.70" stroke="#000" stroke-width="1.45" fill="none"/>
<path d="M466.70,510.8H488.70M477.7,499.80V521.80" stroke="#e41219" stroke-width="1.45" fill="none"/>
<path d="M460.30,519.5H473.30M466.8,513.00V526.00" stroke="#000" stroke-width="1.45" fill="none"/>
<path d="M464.40,534.3H474.40M469.4,529.30V539.30" stroke="#000" stroke-width="1.45" fill="none"/>
<path d="M493.80,535.9H504.80M499.3,530.40V541.40" stroke="#000" stroke-width="1.45" fill="none"/>
<path d="M471.20,562.7H487.20M479.2,554.70V570.70" stroke="#000" stroke-width="1.45" fill="none"/>
<path d="M536.60,460.50L548.60,472.50M536.60,472.50L548.60,460.50" stroke="#e41219" stroke-width="1.45" fill="none"/>
<path d="M521.00,506.10L534.40,519.50M521.00,519.50L534.40,506.10" stroke="#e41219" stroke-width="1.45" fill="none"/>
<path d="M540.60,536.20L559.60,555.20M540.60,555.20L559.60,536.20" stroke="#e41219" stroke-width="1.45" fill="none"/>
<path d="M546.40,562.70L562.20,578.50M546.40,578.50L562.20,562.70" stroke="#e41219" stroke-width="1.45" fill="none"/>
<polygon points="596.10,443.8 607.9,432.00 619.70,443.8 607.9,455.60" fill="none" stroke="#e41219" stroke-width="1.45"/>
<polygon points="590.80,481.3 601.0,471.10 611.20,481.3 601.0,491.50" fill="none" stroke="#000" stroke-width="1.45"/>
<polygon points="583.70,515.8 592.6,506.90 601.50,515.8 592.6,524.70" fill="none" stroke="#000" stroke-width="1.45"/>
<polygon points="670.1,480.01 677.90,466.50 662.30,466.50" fill="none" stroke="#000" stroke-width="1.45" stroke-linejoin="miter"/>
</svg></body></html>
